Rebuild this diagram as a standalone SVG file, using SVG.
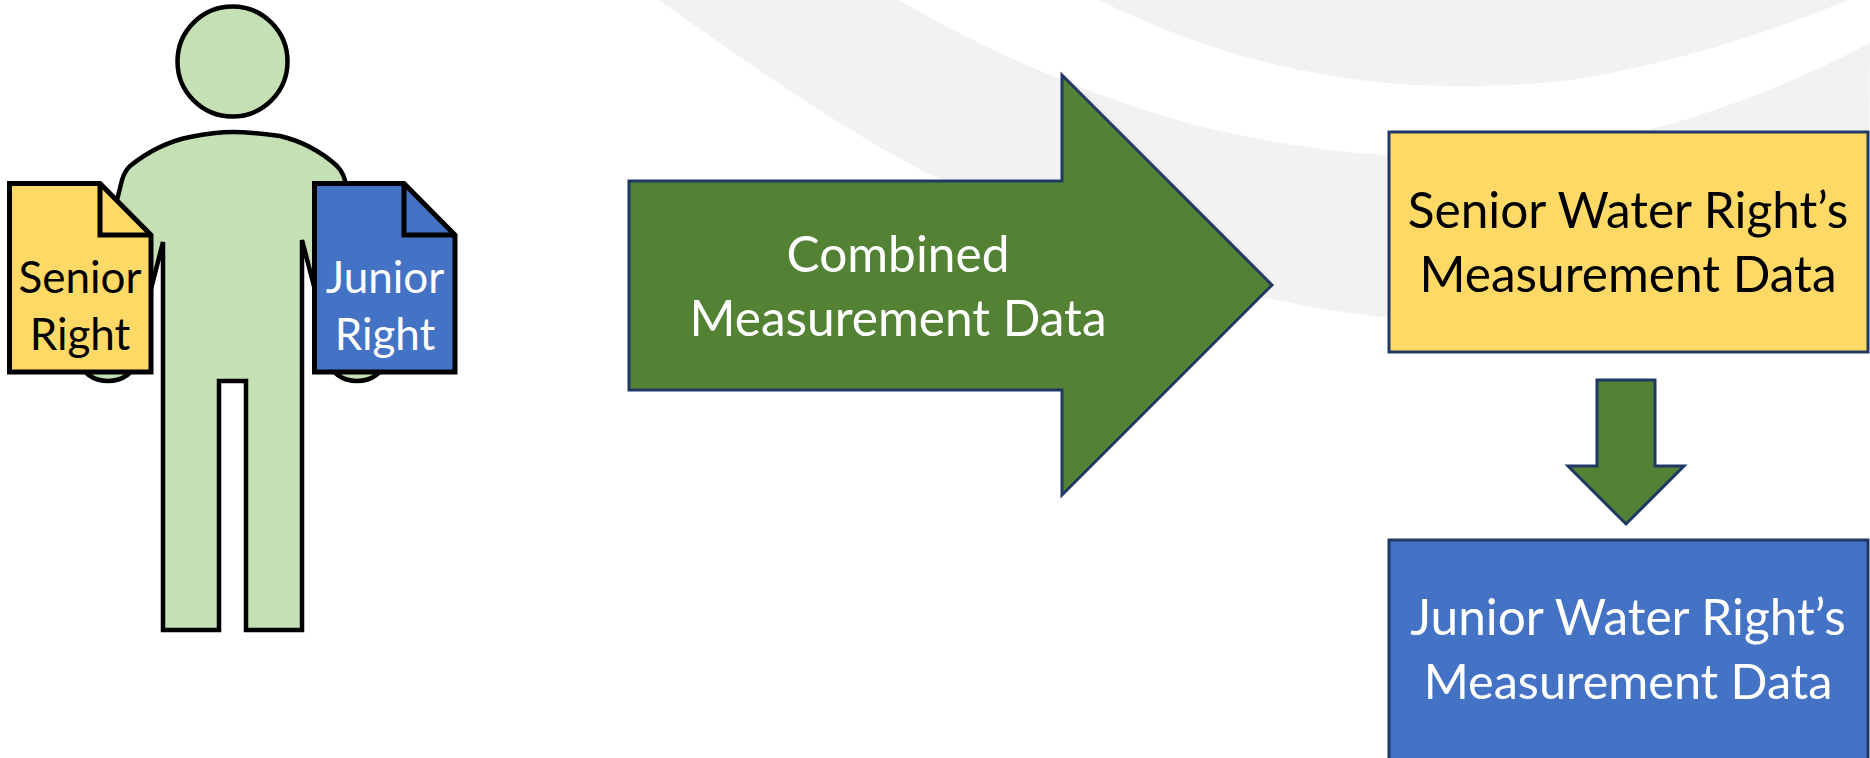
<svg xmlns="http://www.w3.org/2000/svg" width="1870" height="758" viewBox="0 0 1870 758">
<style>
text{font-family:"Lato","Open Sans","Liberation Sans",sans-serif;text-anchor:middle}
.swoosh{fill:#f2f2f2}
.man{fill:#c5e0b4;stroke:#000;stroke-width:4.5}
.doc{stroke:#000;stroke-width:5;stroke-linejoin:miter}
.fold{fill:none;stroke:#000;stroke-width:5}
.big{stroke:#1f3864;stroke-width:3}
.t1{font-size:44px}
.t2{font-size:49.6px}
.w{fill:#fff}
.k{fill:#000}
</style>
<rect width="1870" height="758" fill="#fff"/>
<g id="background">
<path class="swoosh" d="M659 0C750 65 850 135 938 178C1040 232 1170 283 1267 298C1310 307 1350 314 1385 317L1868 317L1870 43C1800 80 1725 110 1648 130C1560 153 1470 160 1385 155C1280 148 1170 125 1071 83C1010 60 950 30 899 0Z"/>
<path class="swoosh" d="M1099 0C1220 60 1340 86 1456 86C1500 86 1550 85 1600 75C1690 58 1770 32 1848 0Z"/>
</g>
<g id="connectors">
<path id="big-arrow" class="big" fill="#548235" d="M629 181H1062V75L1272 285L1062 495V390H629Z"/>
<path id="small-arrow" class="big" fill="#548235" d="M1597 380H1655V466H1684L1626 524L1568 466H1597Z"/>
</g>
<g id="person">
<circle class="man" cx="232.5" cy="61.5" r="55"/>
<ellipse class="man" cx="108" cy="361" rx="27" ry="20"/>
<ellipse class="man" cx="357" cy="361" rx="27" ry="20"/>
<path class="man" d="M117 200L122 180C124 173 126 170 130 166C150 150 170 141 190 137C210 133 225 132 233 132C250 132 265 134 280 136C305 142 325 155 337 166C342 171 345 177 346 186L346 300L315 290L302 240V630H246V381H219V630H163V242L150 293L117 300Z"/>
</g>
<g id="senior-doc">
<path class="doc" fill="#ffd966" d="M9.5 183.5H100L151 235V372H9.5Z"/>
<path class="fold" d="M100 184V235H151"/>
<text class="t1 k" x="80" y="293">Senior</text>
<text class="t1 k" x="80" y="350">Right</text>
</g>
<g id="junior-doc">
<path class="doc" fill="#4472c4" d="M314.5 183.5H404L455 235V372H314.5Z"/>
<path class="fold" d="M404 184V235H455"/>
<text class="t1 w" x="385" y="293">Junior</text>
<text class="t1 w" x="385" y="350">Right</text>
</g>
<g id="combined-label">
<text class="t2 w" x="898" y="272">Combined</text>
<text class="t2 w" x="898" y="336">Measurement Data</text>
</g>
<g id="senior-box">
<rect class="big" fill="#ffd966" x="1389" y="132" width="479" height="220"/>
<text class="t2 k" x="1628" y="228">Senior Water Right’s</text>
<text class="t2 k" x="1628" y="292">Measurement Data</text>
</g>
<g id="junior-box">
<rect class="big" fill="#4472c4" x="1389" y="540" width="479" height="220"/>
<text class="t2 w" x="1628" y="635">Junior Water Right’s</text>
<text class="t2 w" x="1628" y="699" style="font-size:48.6px">Measurement Data</text>
</g>
</svg>
